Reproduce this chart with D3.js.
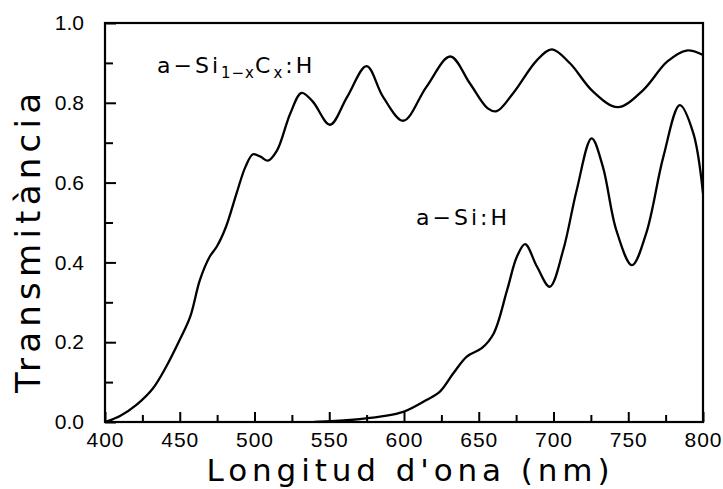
<!DOCTYPE html>
<html>
<head>
<meta charset="utf-8">
<script src="https://cdn.jsdelivr.net/npm/d3@7"></script>
<style>
  html, body { margin: 0; padding: 0; background: #fff; }
  svg { display: block; }
  text { font-family: "Liberation Sans", Arial, sans-serif; fill: #000; }
  .big { font-family: "DejaVu Sans", sans-serif; }
</style>
</head>
<body>
<svg id="chart" width="723" height="489"></svg>
<script>
// ---- data ----
const sicWavelength = [400, 410, 421, 432, 441, 450, 457, 463.5, 470, 475, 481, 488, 494, 499, 504, 509, 515, 524, 531.5, 539, 550.5, 562, 575, 586, 599.5, 615, 631, 644, 656, 662, 673, 689, 699, 711, 726.5, 743, 760, 776, 789, 800];
const sicValues     = [0.0, 0.015, 0.043, 0.084, 0.139, 0.206, 0.264, 0.356, 0.414, 0.441, 0.49, 0.573, 0.64, 0.671, 0.665, 0.655, 0.68, 0.774, 0.825, 0.803, 0.745, 0.815, 0.892, 0.815, 0.755, 0.84, 0.916, 0.849, 0.786, 0.779, 0.824, 0.907, 0.934, 0.899, 0.828, 0.789, 0.832, 0.903, 0.931, 0.92];

const siWavelength = [540, 564, 585, 600, 615, 624, 633, 642, 652, 660, 669, 675.5, 681, 689, 697.5, 706.5, 715.5, 725.5, 733, 742, 752.5, 762, 773.5, 784.5, 793.5, 800];
const siValues     = [0.0, 0.005, 0.014, 0.026, 0.055, 0.076, 0.122, 0.164, 0.185, 0.222, 0.331, 0.414, 0.446, 0.389, 0.339, 0.431, 0.581, 0.711, 0.64, 0.481, 0.393, 0.473, 0.665, 0.794, 0.724, 0.573];

const xTicksMajor = [400, 450, 500, 550, 600, 650, 700, 750, 800];
const xTicksMinor = [425, 475, 525, 575, 625, 675, 725, 775];
const yTicksMajor = [0.0, 0.2, 0.4, 0.6, 0.8, 1.0];
const yTicksMinor = [0.1, 0.3, 0.5, 0.7, 0.9];

const xTitle = "Longitud d'ona (nm)";
const yTitle = "Transmitància";

// ---- layout ----
const svg = d3.select("#chart");
const L = 105, R = 703, T = 23, B = 422;

const x = d3.scaleLinear().domain([400, 800]).range([L, R]);
const y = d3.scaleLinear().domain([0, 1]).range([B, T]);

// frame
svg.append("rect").attr("x", L).attr("y", T).attr("width", R - L).attr("height", B - T)
  .attr("fill", "none").attr("stroke", "#000").attr("stroke-width", 2.2);

// ticks (inward) via axes
const xAxisMajor = d3.axisBottom(x).tickValues(xTicksMajor).tickSizeInner(-10).tickSizeOuter(0)
  .tickFormat(d3.format("d")).tickPadding(10);
const gx = svg.append("g").attr("transform", `translate(0,${B})`).call(xAxisMajor);
gx.select(".domain").remove();
gx.selectAll("line").attr("stroke", "#000").attr("stroke-width", 2);
gx.selectAll("text").attr("font-size", 21).attr("dy", "0.71em").attr("fill", "#000")
  .attr("letter-spacing", 1);

const xAxisMinor = d3.axisBottom(x).tickValues(xTicksMinor).tickSizeInner(-7).tickSizeOuter(0).tickFormat("");
const gx2 = svg.append("g").attr("transform", `translate(0,${B})`).call(xAxisMinor);
gx2.select(".domain").remove();
gx2.selectAll("line").attr("stroke", "#000").attr("stroke-width", 2);

const yAxisMajor = d3.axisLeft(y).tickValues(yTicksMajor).tickSizeInner(-11).tickSizeOuter(0)
  .tickFormat(d3.format(".1f")).tickPadding(21);
const gy = svg.append("g").attr("transform", `translate(${L},0)`).call(yAxisMajor);
gy.select(".domain").remove();
gy.selectAll("line").attr("stroke", "#000").attr("stroke-width", 2);
gy.selectAll("text").attr("font-size", 21).attr("fill", "#000");

const yAxisMinor = d3.axisLeft(y).tickValues(yTicksMinor).tickSizeInner(-8).tickSizeOuter(0).tickFormat("");
const gy2 = svg.append("g").attr("transform", `translate(${L},0)`).call(yAxisMinor);
gy2.select(".domain").remove();
gy2.selectAll("line").attr("stroke", "#000").attr("stroke-width", 2);

// curves
const line = d3.line().curve(d3.curveCatmullRom.alpha(0.5));
svg.append("clipPath").attr("id", "clip")
  .append("rect").attr("x", L).attr("y", T - 5).attr("width", R - L).attr("height", B - T + 5);

svg.append("path")
  .datum(sicWavelength.map((w, i) => [x(w), y(sicValues[i])]))
  .attr("d", line).attr("fill", "none").attr("stroke", "#000").attr("stroke-width", 2.3)
  .attr("clip-path", "url(#clip)");

svg.append("path")
  .datum(siWavelength.map((w, i) => [x(w), y(siValues[i])]))
  .attr("d", line).attr("fill", "none").attr("stroke", "#000").attr("stroke-width", 2.3)
  .attr("clip-path", "url(#clip)");

// series labels
const lab1 = svg.append("text").attr("class", "big").attr("x", 157).attr("y", 73)
  .attr("font-size", 22).attr("letter-spacing", 3);
lab1.append("tspan").text("a−Si");
lab1.append("tspan").attr("font-size", 15).attr("dy", 5).attr("letter-spacing", 1).text("1−x");
lab1.append("tspan").attr("dy", -5).text("C");
lab1.append("tspan").attr("font-size", 15).attr("dy", 5).text("x");
lab1.append("tspan").attr("dy", -5).text(":H");

svg.append("text").attr("class", "big").attr("x", 416).attr("y", 225).attr("font-size", 22)
  .attr("letter-spacing", 3).text("a−Si:H");

// axis titles
svg.append("text").attr("class", "big").attr("x", 408).attr("y", 481).attr("font-size", 31)
  .attr("text-anchor", "middle").attr("textLength", 403).attr("lengthAdjust", "spacing")
  .text(xTitle);

svg.append("text").attr("class", "big").attr("transform", "translate(40,243) rotate(-90)")
  .attr("font-size", 34).attr("text-anchor", "middle")
  .attr("textLength", 300).attr("lengthAdjust", "spacing")
  .text(yTitle);
</script>
</body>
</html>
